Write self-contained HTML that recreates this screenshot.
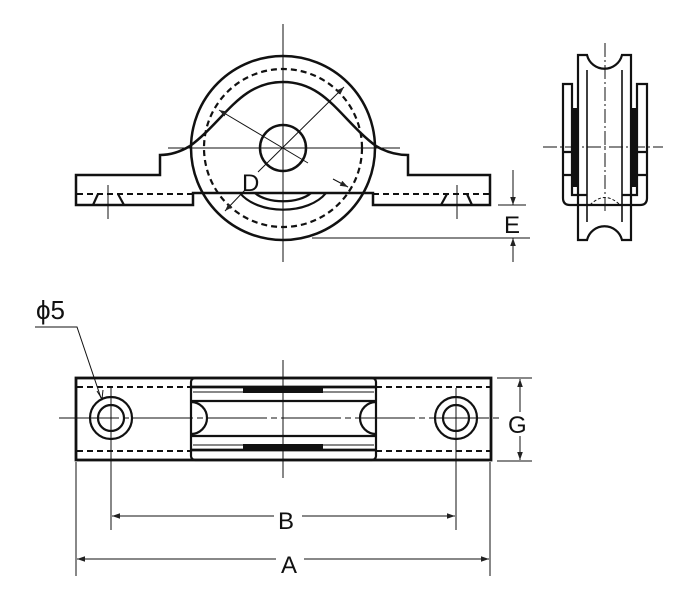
<!DOCTYPE html>
<html><head><style>html,body{margin:0;padding:0;background:#fff}svg{display:block}</style></head>
<body>
<svg width="700" height="600" viewBox="0 0 700 600" xmlns="http://www.w3.org/2000/svg" font-family="Liberation Sans, sans-serif">
<defs>
<marker id="ar" viewBox="0 0 10 10" refX="10" refY="5" markerWidth="8" markerHeight="8" orient="auto-start-reverse"><path d="M0,1.5 L10,5 L0,8.5 Z" fill="#222"/></marker>
</defs>
<g stroke="#111" fill="none">
<g stroke-width="1">
<line x1="283" y1="24" x2="283" y2="262"/>
<line x1="168" y1="148" x2="400" y2="148"/>
</g>
<circle cx="283" cy="148" r="92" stroke-width="2.5"/>
<circle cx="283" cy="148" r="79" stroke-width="2.2" stroke-dasharray="6,4"/>
<circle cx="283" cy="148" r="23" stroke-width="2.5"/>
<path d="M190,146 Q175,155 160,155 V175 H76 V205 H193 V193 H373 V205 H490 V175 H408 V155 Q391,155 376,146" stroke-width="2.5"/>
<path d="M190,146 C225,120 240,82 283,82 C326,82 341,120 376,146" stroke-width="2.5"/>
<path d="M240,193 A48,30 0 0 0 326,193" stroke-width="2.2"/>
<path d="M255,193 A32,16 0 0 0 311,193" stroke-width="2.2"/>
<line x1="77" y1="194" x2="193" y2="194" stroke-width="2" stroke-dasharray="6,4"/>
<line x1="373" y1="194" x2="489" y2="194" stroke-width="2" stroke-dasharray="6,4"/>
<path d="M93,205 L98,194 M118,194 L124,205" stroke-width="2.2"/>
<path d="M441,205 L447,194 M467,194 L472,205" stroke-width="2.2"/>
<line x1="108" y1="185" x2="108" y2="219" stroke-width="1"/>
<line x1="457" y1="185" x2="457" y2="219" stroke-width="1"/>
<g stroke-width="1">
<line x1="308" y1="163" x2="219" y2="110" marker-end="url(#ar)"/>
<line x1="258" y1="172" x2="344" y2="87" marker-end="url(#ar)"/>
<line x1="245" y1="190" x2="225" y2="211" marker-end="url(#ar)"/>
<line x1="333" y1="179" x2="348" y2="187" marker-end="url(#ar)"/>
<line x1="498" y1="205" x2="526" y2="205"/>
<line x1="312" y1="238" x2="530" y2="238"/>
<line x1="513" y1="170" x2="513" y2="205" marker-end="url(#ar)"/>
<line x1="513" y1="262" x2="513" y2="238" marker-end="url(#ar)"/>
</g>
<path d="M563,84 H572 V195 H637 V84 H647 V198 Q647,205 640,205 H570 Q563,205 563,198 Z" stroke-width="2.2" fill="#fff"/>
<rect x="572" y="108" width="7" height="79" fill="#111" stroke="none"/>
<rect x="631" y="108" width="7" height="79" fill="#111" stroke="none"/>
<path d="M578,240 V55 H587 A18,18 0 0 0 622,55 H631 V240 H622 A18,18 0 0 0 587,240 Z" stroke-width="2.2" fill="#fff"/>
<line x1="587" y1="70" x2="587" y2="222" stroke-width="1.6"/>
<line x1="622" y1="70" x2="622" y2="222" stroke-width="1.6"/>
<path d="M578,195 H587 M622,195 H631 M578,205 H631" stroke-width="2.2"/>
<path d="M563,152 H572 M563,175 H572 M637,152 H647 M637,175 H647" stroke-width="2.2"/>
<path d="M590,205 Q605,190 620,205" stroke-width="1" stroke-dasharray="3,2"/>
<g stroke-width="1">
<line x1="543" y1="147" x2="663" y2="147" stroke-dasharray="14,3,2,3"/>
<line x1="605" y1="43" x2="605" y2="213" stroke-dasharray="14,3,2,3"/>
</g>
<rect x="76" y="378" width="415" height="82" stroke-width="2.8" fill="#fff"/>
<line x1="77" y1="387" x2="191" y2="387" stroke-width="2" stroke-dasharray="6,4"/>
<line x1="77" y1="451" x2="191" y2="451" stroke-width="2" stroke-dasharray="6,4"/>
<line x1="376" y1="387" x2="490" y2="387" stroke-width="2" stroke-dasharray="6,4"/>
<line x1="376" y1="451" x2="490" y2="451" stroke-width="2" stroke-dasharray="6,4"/>
<rect x="191" y="378" width="185" height="82" rx="4" stroke-width="2.2"/>
<line x1="191" y1="387" x2="376" y2="387" stroke-width="2.7"/>
<line x1="193" y1="392" x2="374" y2="392" stroke-width="1.1"/>
<line x1="191" y1="401" x2="376" y2="401" stroke-width="2.2"/>
<line x1="191" y1="436" x2="376" y2="436" stroke-width="2.2"/>
<line x1="193" y1="445" x2="374" y2="445" stroke-width="1.1"/>
<line x1="191" y1="450" x2="376" y2="450" stroke-width="2.7"/>
<rect x="243" y="386" width="80" height="7" fill="#111" stroke="none"/>
<rect x="243" y="444" width="80" height="7" fill="#111" stroke="none"/>
<path d="M191,402 A16,16 0 0 1 191,434" stroke-width="2.2"/>
<path d="M376,402 A16,16 0 0 0 376,434" stroke-width="2.2"/>
<circle cx="111" cy="418" r="21" stroke-width="2.2"/>
<circle cx="111" cy="418" r="13" stroke-width="2.2"/>
<circle cx="456" cy="418" r="21" stroke-width="2.2"/>
<circle cx="456" cy="418" r="13" stroke-width="2.2"/>
<g stroke-width="1">
<line x1="59" y1="418" x2="503" y2="418" stroke-dasharray="60,4,6,4"/>
<line x1="283" y1="360" x2="283" y2="478"/>
<line x1="111" y1="388" x2="111" y2="530"/>
<line x1="456" y1="388" x2="456" y2="530"/>
<line x1="76" y1="462" x2="76" y2="576"/>
<line x1="490" y1="462" x2="490" y2="576"/>
<line x1="274" y1="516" x2="112" y2="516" marker-end="url(#ar)"/>
<line x1="302" y1="516" x2="455" y2="516" marker-end="url(#ar)"/>
<line x1="276" y1="559" x2="77" y2="559" marker-end="url(#ar)"/>
<line x1="304" y1="559" x2="489" y2="559" marker-end="url(#ar)"/>
<line x1="497" y1="378" x2="532" y2="378"/>
<line x1="497" y1="461" x2="532" y2="461"/>
<line x1="520" y1="412" x2="520" y2="379" marker-end="url(#ar)"/>
<line x1="520" y1="436" x2="520" y2="460" marker-end="url(#ar)"/>
<path d="M35,327 H77 L101,398" />
</g>
<path d="M97,391 L102,399 L103,390" stroke-width="1"/>
</g>
<g fill="#111" font-size="24">
<text x="242" y="191">D</text>
<text x="504" y="233">E</text>
<text x="278" y="529">B</text>
<text x="281" y="573">A</text>
<text x="508" y="433">G</text>
<text x="36" y="319" font-size="26">ϕ5</text>
</g>
</svg>
</body></html>
